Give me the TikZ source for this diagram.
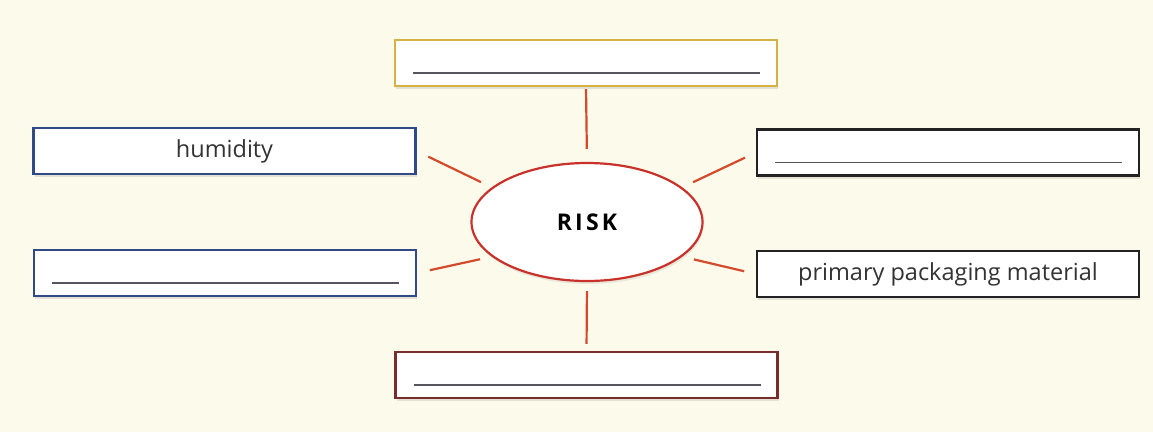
\documentclass[tikz,border=0pt]{standalone}
\usepackage{fontspec}
\setmainfont{Open Sans}
\usetikzlibrary{shapes.geometric,shadows}
\definecolor{paper}{HTML}{FCFAEA}
\definecolor{goldline}{HTML}{D6B246}
\definecolor{blueline}{HTML}{2F4A86}
\definecolor{darkline}{HTML}{222222}
\definecolor{brownline}{HTML}{7A2C2C}
\definecolor{riskred}{HTML}{C8322A}
\definecolor{linkred}{HTML}{D44A2C}
\definecolor{fillgray}{HTML}{555560}

\tikzset{
  field/.style={draw, line width=2.2pt, fill=white, minimum width=382pt, minimum height=46pt,
    inner sep=0pt, font=\fontsize{23.5}{26}\selectfont, text=black!80,
    drop shadow={shadow xshift=1pt, shadow yshift=-3pt, opacity=0.2}},
  blank/.style={path picture={\draw[line width=1.4pt, fillgray]
    ([shift={(18pt,13pt)}]path picture bounding box.south west) --
    ([shift={(-17pt,13pt)}]path picture bounding box.south east);}},
  link/.style={draw=linkred, line width=2.2pt}
}

\begin{document}
\begin{tikzpicture}[x=1pt, y=-1pt]
\fill[paper] (0,0) rectangle (1153,432);
\useasboundingbox (0,0) rectangle (1153,432);

% centre
\node (risk) [ellipse, draw=riskred, line width=2.2pt, fill=white, minimum width=231pt, minimum height=118pt,
  drop shadow={shadow xshift=1pt, shadow yshift=-3pt, opacity=0.15},
  font=\fontsize{23}{26}\selectfont\bfseries\addfontfeature{LetterSpace=14}] at (587,222) {RISK};

% fields
\node (top) [field, blank, draw=goldline] at (586,63) {};
\node (hum) [field, draw=blueline] at (224.5,151) {humidity};
\node (lowleft) [field, blank, draw=blueline] at (225,273) {};
\node (upright) [field, blank, draw=darkline] at (948,152.5) {};
\node (pack) [field, draw=darkline] at (948,274) {primary packaging material};
\node (bot) [field, blank, draw=brownline] at (586.5,375) {};

% connectors
\draw[link, shorten <=2pt, shorten >=13pt] (top.south) -- (risk.north);
\draw[link, shorten <=9pt, shorten >=7pt] (risk.south) -- (bot.north);
\draw[link, shorten <=13pt, shorten >=12pt] (hum.east) -- (risk.160);
\draw[link, shorten <=13pt, shorten >=12pt] (lowleft.east) -- (risk.200);
\draw[link, shorten <=12pt, shorten >=12pt] (risk.20) -- (upright.west);
\draw[link, shorten <=12pt, shorten >=12pt] (risk.-20) -- (pack.west);
\end{tikzpicture}
\end{document}
